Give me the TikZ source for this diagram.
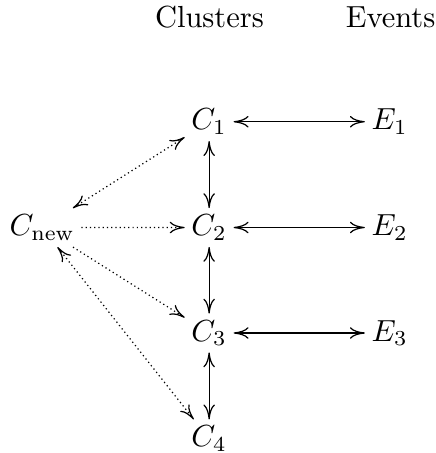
\documentclass[tikz,border=0pt]{standalone}
\usepackage{amsmath}
\usetikzlibrary{arrows.meta}

\begin{document}
\begin{tikzpicture}[x=1pt,y=1pt,
  every node/.style={anchor=base,inner sep=2pt},
  >={Computer Modern Rightarrow[length=4.9pt,width=3.8pt]}]
\useasboundingbox (0,0) rectangle (143,-148.6);
\node (clusters) at (68.7,-8.9) {Clusters};
\node (events) at (128.1,-8.9) {Events};
\node (cnew) at (13.8,-77.3) {\(C_{\text{new}}\)};
\foreach \i/\y in {1/-42.6,2/-77.3,3/-111.9,4/-146.6}
  \node (c\i) at (68.6,\y) {\(C_\i\)};
\foreach \i/\y in {1/-42.6,2/-77.3,3/-111.9}
  \node (e\i) at (127.8,\y) {\(E_\i\)};
\foreach \i in {1,2,3}
  \draw[<->] (c\i) -- (e\i);
\foreach \i/\j in {1/2,2/3,3/4}
  \draw[<->] (c\i) -- (c\j);
\draw[<->,densely dotted] (cnew) -- (c1);
\draw[->,densely dotted] (cnew) -- (c2);
\draw[->,densely dotted] (cnew) -- (c3);
\draw[<->,densely dotted] (cnew) -- (c4);
\end{tikzpicture}
\end{document}
